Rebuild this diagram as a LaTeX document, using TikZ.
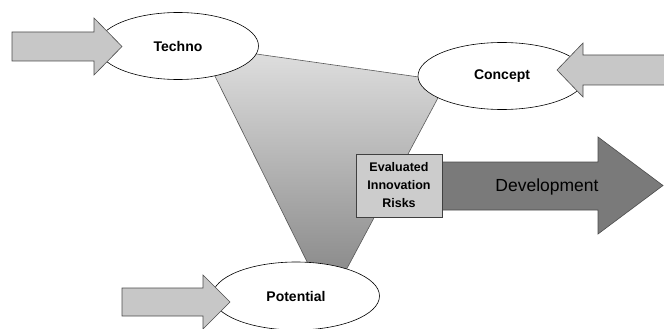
\documentclass[tikz,border=0pt]{standalone}
\usepackage{fontspec}
\setmainfont{Liberation Sans}
\usetikzlibrary{shapes.geometric}

\tikzset{
  bubble/.style={ellipse,draw=black,line width=0.6pt,fill=white,inner sep=0pt,
    font=\fontsize{14}{16}\selectfont\bfseries},
  inarrow/.style={draw=black!70,line width=0.6pt,fill=black!22},
  devarrow/.style={draw=black!70,line width=0.6pt,fill=black!52},
  riskbox/.style={rectangle,draw=black!75,line width=0.7pt,fill=black!20,inner sep=0pt,
    minimum width=86pt,minimum height=63pt,align=center,
    font=\fontsize{12.5}{18}\selectfont\bfseries},
}

\begin{document}
\begin{tikzpicture}[x=1pt,y=-1pt]

\useasboundingbox (0,0) rectangle (664,329);

% core triangle
\coordinate (tl) at (200,46);
\coordinate (tr) at (447,81);
\coordinate (bt) at (328,304);
\shade[top color=black!12,bottom color=black!50,draw=black!65,line width=0.6pt]
  (tl) -- (tr) -- (bt) -- cycle;

\node[bubble,minimum width=161pt,minimum height=67pt] (techno)  at (178,46)  {Techno};
\node[bubble,minimum width=168pt,minimum height=67pt] (concept) at (502,76)  {Concept};
\node[bubble,minimum width=167pt,minimum height=68pt] (potential) at (296,296) {Potential};

% inputs
\draw[inarrow] (12,32) -- (94,32) -- (94,18) -- (122,46.5) -- (94,75) -- (94,61) -- (12,61) -- cycle;
\draw[inarrow] (670,55) -- (583,55) -- (583,43) -- (557,70) -- (583,97) -- (583,85) -- (670,85);
\draw[inarrow] (122,288) -- (203,288) -- (203,275) -- (230,302) -- (203,329) -- (203,316) -- (122,316) -- cycle;

% output
\draw[devarrow] (442,162) -- (598,162) -- (598,137) -- (663,185.5) -- (598,234) -- (598,210) -- (442,210) -- cycle;
\node[font=\fontsize{17.5}{20}\selectfont] (dev) at (547,187) {Development};

\node[riskbox] (risks) at (399,185.5) {Evaluated\\Innovation\\Risks};

\end{tikzpicture}
\end{document}
